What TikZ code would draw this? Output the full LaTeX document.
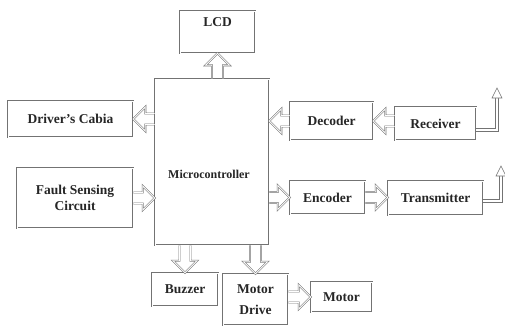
\documentclass[tikz,border=0pt]{standalone}
\usepackage{fontspec}
\setmainfont{Liberation Serif}
\usetikzlibrary{calc}
% hollow block arrow from #1 (start) to #2 (tip)
\newcommand\blkarr[2]{%
  \draw[blkarrow] let \p1=(#1), \p2=(#2),
    \n2={veclen(\x2-\x1,\y2-\y1)},
    \n3={(\x2-\x1)/\n2}, \n4={(\y2-\y1)/\n2} in
    ({\x1-5.5*\n4},{\y1+5.5*\n3}) --
    ({\x2-12*\n3-5.5*\n4},{\y2-12*\n4+5.5*\n3}) --
    ({\x2-12*\n3-12*\n4},{\y2-12*\n4+12*\n3}) --
    (\p2) --
    ({\x2-12*\n3+12*\n4},{\y2-12*\n4-12*\n3}) --
    ({\x2-12*\n3+5.5*\n4},{\y2-12*\n4-5.5*\n3}) --
    ({\x1+5.5*\n4},{\y1-5.5*\n3});}
\begin{document}
\begin{tikzpicture}[x=1pt,y=-1pt,
  box/.style={draw=black!55, line width=0.6pt, double=white, double distance=0.9pt,
    inner sep=0pt, align=center, text=black!85, font=\fontsize{13.5}{16}\selectfont\bfseries},
  blkarrow/.style={draw=black!55, line width=0.55pt, double=white,
    double distance=0.8pt, line join=miter},
  antline/.style={draw=black!55, line width=0.55pt, double=white, double distance=2.5pt},
  anthead/.style={draw=black!55, line width=0.6pt, fill=white},
  lbl/.style={text=black!85, font=\fontsize{12}{14}\selectfont\bfseries}
]
\useasboundingbox (0,0) rectangle (505,327);

\node[box, minimum width=75, minimum height=42] (lcd) at (217.5,32) {LCD\\[3pt]};
\node[box, minimum width=114, minimum height=166] (mc) at (212,162) {};
\node[lbl] (mct) at (209,174) {Microcontroller};
\node[box, minimum width=125, minimum height=36] (dc) at (70.5,119) {Driver’s Cabia};
\node[box, minimum width=116, minimum height=60] (fs) at (75,198) {Fault Sensing\\Circuit};
\node[box, minimum width=83, minimum height=38] (dec) at (331.5,121) {Decoder};
\node[box, minimum width=81, minimum height=33] (rx) at (435.5,123.5) {Receiver};
\node[box, minimum width=75, minimum height=33] (enc) at (327.5,197.5) {Encoder};
\node[box, minimum width=95, minimum height=34] (tx) at (435.5,198) {Transmitter};
\node[box, minimum width=66, minimum height=33] (bz) at (185,289.5) {Buzzer};
\node[box, minimum width=65, minimum height=51] (md) at (255.5,299.5) {Motor\\[5pt]Drive};
\node[box, minimum width=61, minimum height=30] (mo) at (341.5,297) {Motor};

\blkarr{mc.north -| lcd.south}{lcd.south}
\blkarr{mc.west |- dc.east}{dc.east}
\blkarr{fs.east}{mc.west |- fs.east}
\blkarr{dec.west}{mc.east |- dec.west}
\blkarr{rx.west |- dec.west}{dec.east}
\blkarr{mc.east |- enc.west}{enc.west}
\blkarr{enc.east}{tx.west |- enc.east}
\blkarr{mc.south -| bz.north}{bz.north}
\blkarr{mc.south -| md.north}{md.north}
\blkarr{md.east |- mo.west}{mo.west}

\coordinate (rxant) at (497,98);
\coordinate (rxbend) at (497,130);
\coordinate (txant) at (501,176);
\coordinate (txbend) at (501,201);
\draw[antline] (rx.east |- rxbend) -- (rxbend) -- (rxant);
\draw[anthead] ($(rxant)+(-5,0)$) -- ($(rxant)+(0,-10)$) -- ($(rxant)+(5,0)$) -- cycle;
\draw[antline] (tx.east |- txbend) -- (txbend) -- (txant);
\draw[anthead] ($(txant)+(-5,0)$) -- ($(txant)+(0,-10)$) -- ($(txant)+(5,0)$) -- cycle;
\end{tikzpicture}
\end{document}
